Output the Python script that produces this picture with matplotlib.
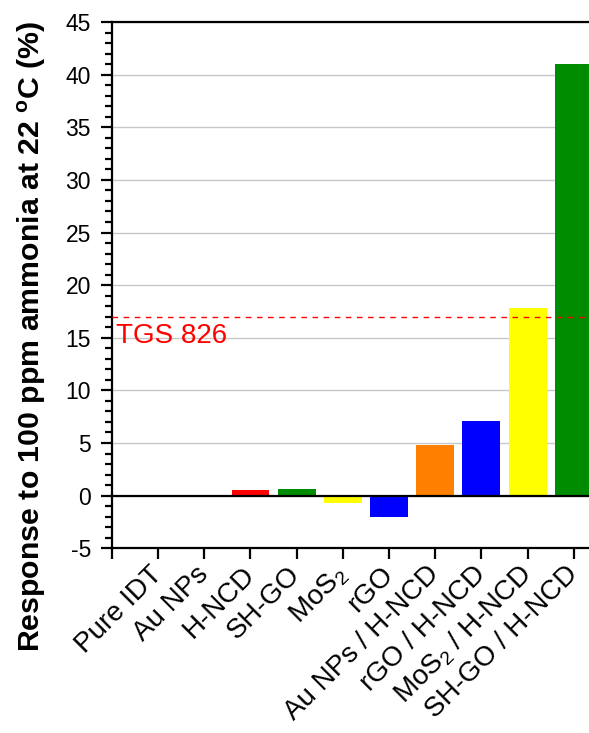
"""Gas response bar chart: ammonia response of coated sensors."""

import matplotlib

matplotlib.use("Agg")
import matplotlib.pyplot as plt
from matplotlib.ticker import MultipleLocator

plt.rcParams["font.family"] = ["Liberation Sans", "DejaVu Sans"]
plt.rcParams["mathtext.fontset"] = "custom"
plt.rcParams["mathtext.rm"] = "Liberation Sans"
plt.rcParams["mathtext.it"] = "Liberation Sans:italic"
plt.rcParams["mathtext.bf"] = "Liberation Sans:bold"
plt.rcParams["axes.unicode_minus"] = False

CATEGORIES = [
    "Pure IDT",
    "Au NPs",
    "H-NCD",
    "SH-GO",
    "MoS$_2$",
    "rGO",
    "Au NPs / H-NCD",
    "rGO / H-NCD",
    "MoS$_2$ / H-NCD",
    "SH-GO / H-NCD",
]
RESPONSE = [0.0, 0.0, 0.55, 0.65, -0.7, -2.05, 4.85, 7.1, 17.8, 41.0]
COLORS = [
    "#ff0000", "#ff0000", "#ff0000", "#008c00", "#ffff00",
    "#0000ff", "#ff8000", "#0000ff", "#ffff00", "#008c00",
]
TGS_LEVEL = 17.0
TGS_LABEL = "TGS 826"


def main() -> None:
    fig = plt.figure(figsize=(5.89, 7.33), dpi=100)
    ax = fig.add_axes([0.190, 0.252, 0.810, 0.718])

    positions = list(range(1, len(CATEGORIES) + 1))
    ax.bar(positions, RESPONSE, width=0.82, color=COLORS, linewidth=0, zorder=3)

    ax.axhline(0, color="black", linewidth=1.6, zorder=4)
    ax.axhline(TGS_LEVEL, color="#ff0000", linestyle=(0, (4, 4)), linewidth=1.0, zorder=5)
    ax.text(0.08, 14.5, TGS_LABEL, color="#ff0000", fontsize=20, va="baseline", ha="left", zorder=6)

    ax.set_xlim(0, 10.33)
    ax.set_ylim(-5, 45)
    ax.yaxis.set_major_locator(MultipleLocator(5))
    ax.yaxis.set_minor_locator(MultipleLocator(1))
    ax.set_xticks([0] + positions)
    ax.set_xticklabels([""] + CATEGORIES, rotation=45, ha="right", va="center",
                       rotation_mode="anchor", fontsize=20)
    ax.tick_params(axis="y", labelsize=16.5, pad=7)
    ax.tick_params(which="major", direction="out", length=8, width=1.6)
    ax.tick_params(which="minor", direction="out", length=5, width=1.6)
    ax.tick_params(axis="x", pad=8)

    ax.grid(True, axis="y", which="major", color="#c8c8c8", linewidth=1.0, zorder=0)
    ax.set_axisbelow(True)

    for side in ("left", "bottom", "top"):
        ax.spines[side].set_linewidth(1.6)
    ax.spines["right"].set_visible(False)

    ax.set_ylabel("Response to 100 ppm ammonia at 22 $^\\mathbf{o}$C (%)", fontsize=21.8,
                  fontweight="bold")
    ax.yaxis.set_label_coords(-0.134, 0.402)

    fig.savefig("out.png", dpi=100)
    plt.close(fig)


if __name__ == "__main__":
    main()
